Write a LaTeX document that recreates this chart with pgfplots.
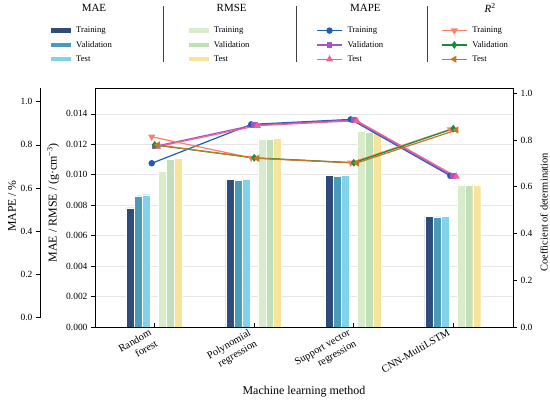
\documentclass[border=0pt]{standalone}
\usepackage{fontspec}
\setmainfont{Liberation Serif}
\usepackage{calc}
\usepackage{pgfplots}
\pgfplotsset{compat=1.18}

\definecolor{maetr}{HTML}{2F4B7C}
\definecolor{maeva}{HTML}{4A9BB7}
\definecolor{maete}{HTML}{80D3EA}
\definecolor{rmsetr}{HTML}{D8ECCB}
\definecolor{rmseva}{HTML}{C0E0B6}
\definecolor{rmsete}{HTML}{F6E39C}
\definecolor{mapetr}{HTML}{1F5EAE}
\definecolor{mapeva}{HTML}{A355C9}
\definecolor{mapete}{HTML}{F06292}
\definecolor{rtr}{HTML}{FF7F66}
\definecolor{rva}{HTML}{1A8A3C}
\definecolor{rte}{HTML}{C07A22}

\pgfplotsset{
  barleg/.style={legend image code/.code={\fill (0bp,-2.2bp) rectangle (20bp,2.2bp);}},
  lineleg/.style={legend image code/.code={\draw[mark repeat=2,mark phase=2] plot coordinates {(0bp,0bp)(12.5bp,0bp)(25bp,0bp)};}},
  ln/.style={line width=1.2pt, color=#1, mark options={solid, fill=#1}},
  common/.style={
    scale only axis,
    /pgf/number format/assume math mode=true,
    tick label style={font=\fontsize{9.5}{11}\selectfont},
    major tick length=4bp,
    tick style={black, line width=0.7pt},
    axis line style={black, line width=0.8pt},
  },
}
\newcommand{\ttl}[1]{\raisebox{6.2pt}{\makebox[\widthof{Validation}][c]{\fontsize{11}{13}\selectfont #1}}}

\begin{document}
\begin{tikzpicture}
\path[use as bounding box] (-95bp,-74bp) rectangle (455bp,327bp);

% ---------------- bars: MAE and RMSE ----------------
\begin{axis}[common,
  at={(0,0)}, anchor=south west,
  width=418bp, height=239bp,
  xmin=-0.6, xmax=3.6, ymin=0, ymax=0.0157,
  xtick={0,1,2,3},
  xticklabels={{Random\\forest},{Polynomial\\regression},{Support vector\\regression},{CNN-MultiLSTM}},
  xticklabel style={xshift=-6bp, yshift=4bp, rotate=30, anchor=north east, align=right, font=\fontsize{10.5}{12.5}\selectfont, inner sep=1pt},
  xtick pos=left, ytick pos=left,
  tick align=outside,
  xtick style={draw=none},
  ytick={0,0.002,0.004,0.006,0.008,0.010,0.012,0.014},
  scaled y ticks=false,
  yticklabel style={/pgf/number format/fixed, /pgf/number format/fixed zerofill, /pgf/number format/precision=3},
  ymajorgrids,
  grid style={color=black!10, line width=0.6pt},
  xlabel={Machine learning method},
  every axis x label/.style={at={(axis description cs:0.5,-0.27)}, anchor=center, font=\fontsize{12}{14}\selectfont},
  ylabel={MAE / RMSE / (g·cm\textsuperscript{−3})},
  every axis y label/.style={at={(axis description cs:-0.1,0.52)}, rotate=90, anchor=center, font=\fontsize{12}{14}\selectfont},
]
\addplot[ybar, bar width=0.08, bar shift=-0.245, fill=maetr, draw=white, line width=0.3pt] coordinates {(0,0.00783) (1,0.00969) (2,0.00995) (3,0.00728)};
\addplot[ybar, bar width=0.08, bar shift=-0.165, fill=maeva, draw=white, line width=0.3pt] coordinates {(0,0.00862) (1,0.00964) (2,0.00991) (3,0.00724)};
\addplot[ybar, bar width=0.08, bar shift=-0.085, fill=maete, draw=white, line width=0.3pt] coordinates {(0,0.00869) (1,0.00971) (2,0.00995) (3,0.00726)};
\addplot[ybar, bar width=0.08, bar shift=0.075, fill=rmsetr, draw=white, line width=0.3pt] coordinates {(0,0.01021) (1,0.01236) (2,0.01284) (3,0.00934)};
\addplot[ybar, bar width=0.08, bar shift=0.155, fill=rmseva, draw=white, line width=0.3pt] coordinates {(0,0.01102) (1,0.01234) (2,0.01282) (3,0.00930)};
\addplot[ybar, bar width=0.08, bar shift=0.235, fill=rmsete, draw=white, line width=0.3pt] coordinates {(0,0.01107) (1,0.01240) (2,0.01277) (3,0.00934)};
\end{axis}

% ---------------- inward x ticks ----------------
\begin{axis}[common,
  at={(0,0)}, anchor=south west,
  width=418bp, height=239bp,
  xmin=-0.6, xmax=3.6, ymin=0, ymax=1,
  axis y line=none, axis x line*=bottom,
  tick align=inside, major tick length=3.5bp,
  xtick={0,1,2,3}, xticklabels={},
]
\end{axis}

% ---------------- MAPE axis (offset spine) ----------------
\begin{axis}[common,
  at={(-55bp,9.3bp)}, anchor=south west,
  width=473bp, height=229.7bp,
  xmin=-1.1527, xmax=3.6, ymin=0, ymax=1.0634,
  axis x line=none, axis y line*=left,
  tick align=outside,
  ytick={0,0.2,0.4,0.6,0.8,1.0},
  yticklabel style={/pgf/number format/fixed, /pgf/number format/fixed zerofill, /pgf/number format/precision=1},
  ylabel={MAPE / \%},
  every axis y label/.style={at={(axis description cs:-0.0593,0.486)}, rotate=90, anchor=center, font=\fontsize{11.8}{14}\selectfont},
  mark size=2.6pt,
]
\addplot[ln=mapetr, mark=*] coordinates {(-0.03,0.715) (0.97,0.895) (1.97,0.918) (2.97,0.657)};
\addplot[ln=mapeva, mark=square*, mark size=2.3pt] coordinates {(0,0.793) (1,0.892) (2,0.915) (3,0.655)};
\addplot[ln=mapete, mark=triangle*, mark size=3pt] coordinates {(0.03,0.792) (1.03,0.889) (2.03,0.912) (3.03,0.653)};
\end{axis}

% ---------------- R^2 axis (right) ----------------
\begin{axis}[common,
  at={(0,0)}, anchor=south west,
  width=418bp, height=239bp,
  xmin=-0.6, xmax=3.6, ymin=0, ymax=1.023,
  axis x line=none, axis y line*=right,
  tick align=outside,
  clip=false,
  ytick={0,0.2,0.4,0.6,0.8,1.0},
  yticklabel style={/pgf/number format/fixed, /pgf/number format/fixed zerofill, /pgf/number format/precision=1},
  ylabel={Coefficient of determination},
  every axis y label/.style={at={(axis description cs:1.074,0.48)}, rotate=90, anchor=center, font=\fontsize{10.5}{12}\selectfont},
  mark size=2.6pt,
  legend columns=4,
  legend cell align=left,
  legend style={at={(axis description cs:-0.1124,1.372)}, anchor=north west, draw=none, fill=none,
    font=\fontsize{8.7}{10}\selectfont, row sep=3bp,
    /tikz/every odd column/.append style={column sep=3bp},
    /tikz/column 2/.style={column sep=75bp},
    /tikz/column 4/.style={column sep=65bp},
    /tikz/column 6/.style={column sep=56bp}},
]
\addplot[ln=rtr, mark=triangle*, mark size=3pt, mark options={rotate=180}, forget plot] coordinates {(-0.03,0.814) (0.97,0.724) (1.97,0.703) (2.97,0.846)};
\addplot[ln=rva, mark=diamond*, mark size=3pt, forget plot] coordinates {(0,0.779) (1,0.724) (2,0.703) (3,0.849)};
\addplot[ln=rte, mark=triangle*, mark size=3pt, mark options={rotate=90}, forget plot] coordinates {(0.03,0.779) (1.03,0.722) (2.03,0.702) (3.03,0.843)};

\addlegendimage{empty legend}\addlegendentry{\ttl{MAE}}
\addlegendimage{empty legend}\addlegendentry{\ttl{RMSE}}
\addlegendimage{empty legend}\addlegendentry{\ttl{MAPE}}
\addlegendimage{empty legend}\addlegendentry{\ttl{\textit{R}\textsuperscript{2}}}
\addlegendimage{barleg, fill=maetr, draw=none}\addlegendentry{Training}
\addlegendimage{barleg, fill=rmsetr, draw=none}\addlegendentry{Training}
\addlegendimage{lineleg, ln=mapetr, mark=*, mark size=2.6pt}\addlegendentry{Training}
\addlegendimage{lineleg, ln=rtr, mark=triangle*, mark size=3pt, mark options={rotate=180}}\addlegendentry{Training}
\addlegendimage{barleg, fill=maeva, draw=none}\addlegendentry{Validation}
\addlegendimage{barleg, fill=rmseva, draw=none}\addlegendentry{Validation}
\addlegendimage{lineleg, ln=mapeva, mark=square*, mark size=2.3pt}\addlegendentry{Validation}
\addlegendimage{lineleg, ln=rva, mark=diamond*, mark size=3pt}\addlegendentry{Validation}
\addlegendimage{barleg, fill=maete, draw=none}\addlegendentry{Test}
\addlegendimage{barleg, fill=rmsete, draw=none}\addlegendentry{Test}
\addlegendimage{lineleg, ln=mapete, mark=triangle*, mark size=3pt}\addlegendentry{Test}
\addlegendimage{lineleg, ln=rte, mark=triangle*, mark size=3pt, mark options={rotate=90}}\addlegendentry{Test}

\draw[black!75, line width=0.8pt] (axis description cs:0.1627,1.343) -- (axis description cs:0.1627,1.109);
\draw[black!75, line width=0.8pt] (axis description cs:0.4809,1.343) -- (axis description cs:0.4809,1.109);
\draw[black!75, line width=0.8pt] (axis description cs:0.7943,1.343) -- (axis description cs:0.7943,1.109);
\end{axis}
\end{tikzpicture}
\end{document}
